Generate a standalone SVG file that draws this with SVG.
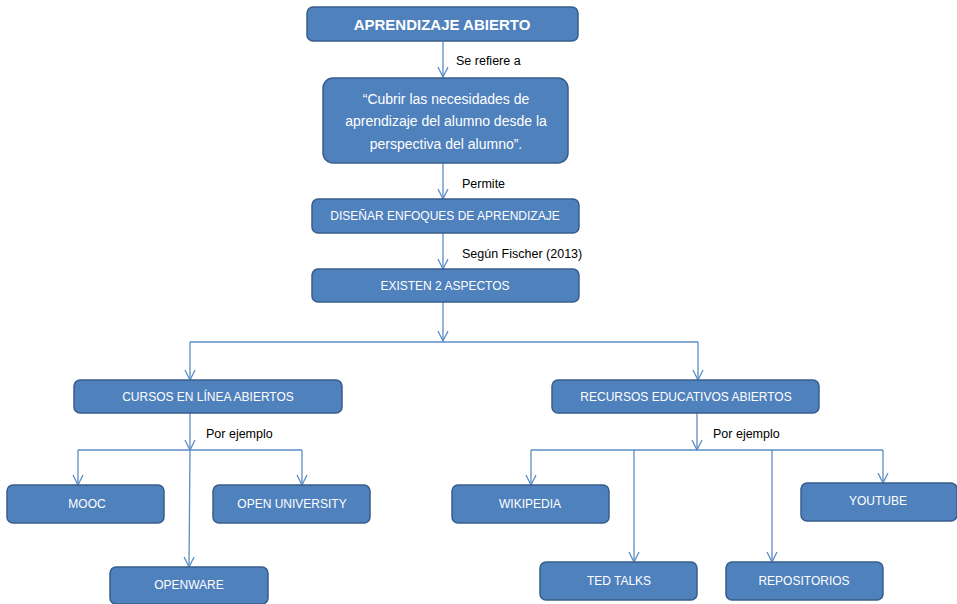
<svg xmlns="http://www.w3.org/2000/svg" width="957" height="604" viewBox="0 0 957 604">
<style>
.box{fill:#4f81bd;stroke:#385d8a;stroke-width:1.5}
.t{font-family:"Liberation Sans",Arial,sans-serif;fill:#fff;text-anchor:middle;font-size:12px}
.tb{font-family:"Liberation Sans",Arial,sans-serif;fill:#fff;text-anchor:middle;font-size:15px;font-weight:bold}
.tq{font-family:"Liberation Sans",Arial,sans-serif;fill:#fff;text-anchor:middle;font-size:14px}
.lbl{font-family:"Liberation Sans",Arial,sans-serif;fill:#000;font-size:12.5px}
.c{stroke:#5b8cc4;stroke-width:1.3;fill:none}
.a{marker-end:url(#arr)}
</style>
<defs>
<marker id="arr" markerUnits="userSpaceOnUse" markerWidth="12" markerHeight="12" viewBox="0 0 12 12" refX="11" refY="6" orient="auto">
<path d="M1,1 L11,6 L1,11" fill="none" stroke="#5b8cc4" stroke-width="1.3"/>
</marker>
</defs>
<rect width="957" height="604" fill="#fff"/>
<g id="connectors">
<line class="c a" x1="443" y1="42" x2="443" y2="77"/>
<line class="c a" x1="443" y1="163" x2="443" y2="199"/>
<line class="c a" x1="443" y1="233" x2="443" y2="269"/>
<line class="c a" x1="443" y1="302" x2="443" y2="341"/>
<line class="c" x1="190" y1="342" x2="698" y2="342"/>
<line class="c a" x1="190" y1="342" x2="190" y2="380"/>
<line class="c a" x1="698" y1="342" x2="698" y2="380"/>
<line class="c a" x1="190" y1="413" x2="190" y2="450"/>
<line class="c" x1="78" y1="450" x2="302" y2="450"/>
<line class="c a" x1="78" y1="450" x2="78" y2="485"/>
<line class="c a" x1="302" y1="450" x2="302" y2="485"/>
<line class="c a" x1="190" y1="450" x2="189" y2="567"/>
<line class="c a" x1="697" y1="413" x2="697" y2="450"/>
<line class="c" x1="531" y1="450" x2="883" y2="450"/>
<line class="c a" x1="531" y1="450" x2="531" y2="485"/>
<line class="c a" x1="634" y1="450" x2="634" y2="562"/>
<line class="c a" x1="772" y1="450" x2="772" y2="562"/>
<line class="c a" x1="883" y1="450" x2="883" y2="483"/>
<text class="lbl" x="456" y="65">Se refiere a</text>
<text class="lbl" x="462" y="188">Permite</text>
<text class="lbl" x="462" y="258">Según Fischer (2013)</text>
<text class="lbl" x="206" y="438">Por ejemplo</text>
<text class="lbl" x="713" y="438">Por ejemplo</text>
</g>
<g id="n-aprendizaje"><rect class="box" x="307" y="7" width="271" height="34" rx="6"/><text class="tb" x="442" y="30">APRENDIZAJE ABIERTO</text></g>
<g id="n-cubrir"><rect class="box" x="323" y="78" width="245" height="85" rx="10"/>
<text class="tq" x="446" y="104">“Cubrir las necesidades de</text>
<text class="tq" x="446" y="126">aprendizaje del alumno desde la</text>
<text class="tq" x="446" y="149">perspectiva del alumno”.</text></g>
<g id="n-disenar"><rect class="box" x="312" y="199" width="267" height="34" rx="6"/><text class="t" x="445" y="220">DISEÑAR ENFOQUES DE APRENDIZAJE</text></g>
<g id="n-existen"><rect class="box" x="312" y="269" width="267" height="33" rx="6"/><text class="t" x="445" y="290">EXISTEN 2 ASPECTOS</text></g>
<g id="n-cursos"><rect class="box" x="74" y="380" width="268" height="33" rx="6"/><text class="t" x="208" y="401">CURSOS EN LÍNEA ABIERTOS</text></g>
<g id="n-recursos"><rect class="box" x="552" y="380" width="267" height="33" rx="6"/><text class="t" x="686" y="401">RECURSOS EDUCATIVOS ABIERTOS</text></g>
<g id="n-mooc"><rect class="box" x="7" y="485" width="157" height="38" rx="6"/><text class="t" x="87" y="508">MOOC</text></g>
<g id="n-openuniv"><rect class="box" x="213" y="485" width="157" height="38" rx="6"/><text class="t" x="292" y="508">OPEN UNIVERSITY</text></g>
<g id="n-openware"><rect class="box" x="110" y="567" width="158" height="37" rx="6"/><text class="t" x="189" y="589">OPENWARE</text></g>
<g id="n-wikipedia"><rect class="box" x="452" y="485" width="157" height="38" rx="6"/><text class="t" x="530" y="508">WIKIPEDIA</text></g>
<g id="n-youtube"><rect class="box" x="801" y="483" width="156" height="38" rx="6"/><text class="t" x="878" y="505">YOUTUBE</text></g>
<g id="n-ted"><rect class="box" x="540" y="562" width="157" height="38" rx="6"/><text class="t" x="619" y="585">TED TALKS</text></g>
<g id="n-repos"><rect class="box" x="726" y="562" width="157" height="38" rx="6"/><text class="t" x="804" y="585">REPOSITORIOS</text></g>
</svg>
